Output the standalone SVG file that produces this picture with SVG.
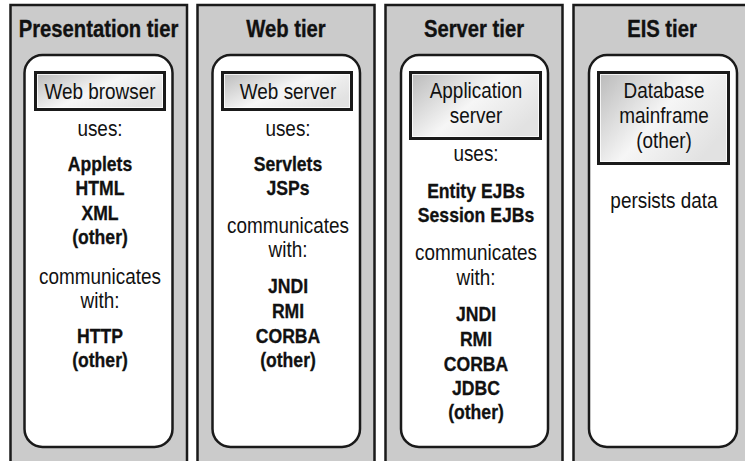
<svg xmlns="http://www.w3.org/2000/svg" width="745" height="461" viewBox="0 0 745 461">
<defs>
<linearGradient id="boxg" x1="0" y1="0" x2="1" y2="0.6">
<stop offset="0" stop-color="#b9b9b9"/>
<stop offset="0.55" stop-color="#f6f6f6"/>
<stop offset="1" stop-color="#e2e2e2"/>
</linearGradient>
<style>
.tier{fill:#cbcbcb;stroke:#1a1a1a;stroke-width:2.5}
.inner{fill:#ffffff;stroke:#1a1a1a;stroke-width:2.5}
.box{fill:url(#boxg);stroke:#1a1a1a;stroke-width:3}
.bevel{fill:none;stroke:#ffffff;stroke-width:1;opacity:0.8}
text{font-family:"Liberation Sans",Arial,sans-serif;fill:#111;text-anchor:middle}
.title{font-size:23px;font-weight:bold;stroke:#111;stroke-width:0.35}
.reg{font-size:21.5px}
.b{font-size:20px;font-weight:bold;stroke:#111;stroke-width:0.3}
</style>
</defs>
<rect x="0" y="0" width="745" height="461" fill="#ffffff"/>

<g id="presentation-tier">
<rect class="tier" x="10.5" y="5" width="176.5" height="470"/>
<rect class="inner" x="24.5" y="55" width="148" height="392" rx="18"/>
<rect class="box" x="35.5" y="72.5" width="129" height="37"/>
<rect class="bevel" x="37.5" y="74.5" width="125" height="33"/>
<g transform="translate(98.5,0) scale(0.88,1)"><text class="title" x="0" y="37">Presentation tier</text></g>
<g transform="translate(100,0) scale(0.88,1)">
<text class="reg" x="0" y="99">Web browser</text>
<text class="reg" x="0" y="136">uses:</text>
<text class="b" x="0" y="171">Applets</text>
<text class="b" x="0" y="195">HTML</text>
<text class="b" x="0" y="220">XML</text>
<text class="b" x="0" y="244">(other)</text>
<text class="reg" x="0" y="284">communicates</text>
<text class="reg" x="0" y="308">with:</text>
<text class="b" x="0" y="343">HTTP</text>
<text class="b" x="0" y="367">(other)</text>
</g>
</g>

<g id="web-tier">
<rect class="tier" x="197.5" y="5" width="177" height="470"/>
<rect class="inner" x="212.5" y="55" width="147.5" height="392" rx="18"/>
<rect class="box" x="222.5" y="72.5" width="129" height="37"/>
<rect class="bevel" x="224.5" y="74.5" width="125" height="33"/>
<g transform="translate(286,0) scale(0.88,1)"><text class="title" x="0" y="37">Web tier</text></g>
<g transform="translate(288,0) scale(0.88,1)">
<text class="reg" x="0" y="99">Web server</text>
<text class="reg" x="0" y="136">uses:</text>
<text class="b" x="0" y="171">Servlets</text>
<text class="b" x="0" y="195">JSPs</text>
<text class="reg" x="0" y="233">communicates</text>
<text class="reg" x="0" y="257">with:</text>
<text class="b" x="0" y="293">JNDI</text>
<text class="b" x="0" y="318">RMI</text>
<text class="b" x="0" y="343">CORBA</text>
<text class="b" x="0" y="367">(other)</text>
</g>
</g>

<g id="server-tier">
<rect class="tier" x="385.5" y="5" width="177" height="470"/>
<rect class="inner" x="401" y="55" width="147" height="392" rx="18"/>
<rect class="box" x="410.5" y="72.5" width="130" height="66"/>
<rect class="bevel" x="412.5" y="74.5" width="126" height="62"/>
<g transform="translate(474,0) scale(0.88,1)"><text class="title" x="0" y="37">Server tier</text></g>
<g transform="translate(476,0) scale(0.88,1)">
<text class="reg" x="0" y="98">Application</text>
<text class="reg" x="0" y="123">server</text>
<text class="reg" x="0" y="161">uses:</text>
<text class="b" x="0" y="198">Entity EJBs</text>
<text class="b" x="0" y="222">Session EJBs</text>
<text class="reg" x="0" y="260">communicates</text>
<text class="reg" x="0" y="285">with:</text>
<text class="b" x="0" y="321">JNDI</text>
<text class="b" x="0" y="346">RMI</text>
<text class="b" x="0" y="371">CORBA</text>
<text class="b" x="0" y="395">JDBC</text>
<text class="b" x="0" y="419">(other)</text>
</g>
</g>

<g id="eis-tier">
<rect class="tier" x="573.5" y="5" width="177" height="470"/>
<rect class="inner" x="589" y="55" width="148" height="392" rx="18"/>
<rect class="box" x="598.5" y="72.5" width="130" height="91"/>
<rect class="bevel" x="600.5" y="74.5" width="126" height="87"/>
<g transform="translate(662,0) scale(0.88,1)"><text class="title" x="0" y="37">EIS tier</text></g>
<g transform="translate(664,0) scale(0.88,1)">
<text class="reg" x="0" y="98">Database</text>
<text class="reg" x="0" y="123">mainframe</text>
<text class="reg" x="0" y="148">(other)</text>
<text class="reg" x="0" y="208">persists data</text>
</g>
</g>
</svg>
